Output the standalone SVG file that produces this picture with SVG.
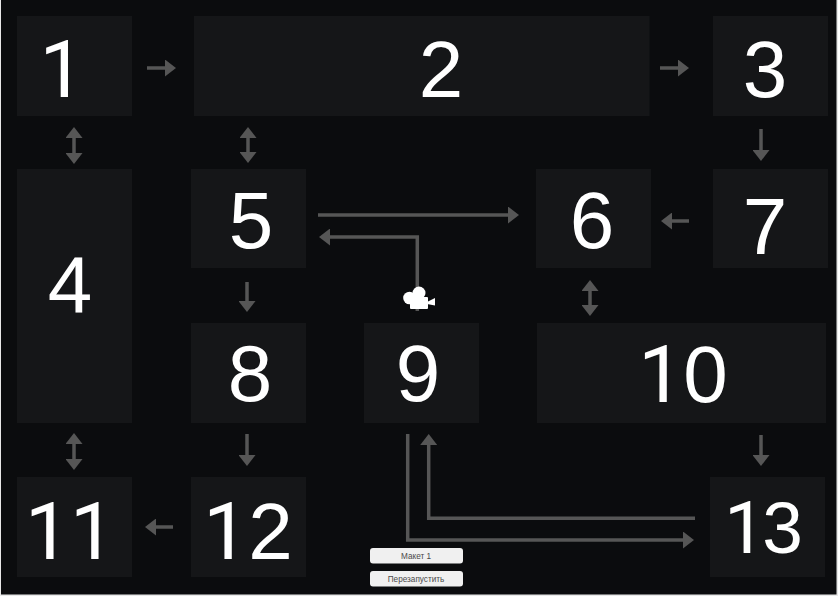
<svg xmlns="http://www.w3.org/2000/svg" width="838" height="596" viewBox="0 0 838 596">
<style>
.n{fill:#151618}
.t{font-family:"Liberation Sans",Arial,sans-serif;font-size:80px;fill:#fff;text-anchor:middle}
.o{font-family:Roboto,"Liberation Sans",sans-serif}
.c{fill:none;stroke:#565656;stroke-width:3.5}
.b{fill:#f0f0f0}
.bt{font-family:"Liberation Sans",Arial,sans-serif;font-size:8.2px;fill:#4a4a4a;text-anchor:middle}
</style>
<defs>
<marker id="a" markerUnits="userSpaceOnUse" markerWidth="12" markerHeight="17" refX="8" refY="8.5" orient="auto-start-reverse"><path d="M0 0L11 8.5L0 17Z" fill="#565656"/></marker>
</defs>
<rect width="838" height="596" fill="#e8e8e8"/>
<rect x="1" y="0" width="835.5" height="594.5" fill="#0b0c0e"/>
<g id="node1"><rect class="n" x="17" y="16" width="115" height="100"/><text class="t" x="62" y="97"><tspan class="o">1</tspan></text></g>
<g id="node2"><rect class="n" x="194" y="16" width="455.5" height="100"/><text class="t" x="441" y="97">2</text></g>
<g id="node3"><rect class="n" x="713" y="16" width="115" height="100"/><text class="t" x="765" y="97">3</text></g>
<g id="node4"><rect class="n" x="17" y="169" width="115" height="254"/><text class="t" x="70" y="312">4</text></g>
<g id="node5"><rect class="n" x="191" y="169" width="115" height="99"/><text class="t" x="251" y="248">5</text></g>
<g id="node6"><rect class="n" x="536" y="169" width="115" height="99"/><text class="t" x="592" y="248">6</text></g>
<g id="node7"><rect class="n" x="713" y="169" width="115" height="99"/><text class="t" x="765" y="254">7</text></g>
<g id="node8"><rect class="n" x="191" y="323" width="115" height="100"/><text class="t" x="250" y="401">8</text></g>
<g id="node9"><rect class="n" x="364" y="323" width="115" height="100"/><text class="t" x="418" y="401">9</text></g>
<g id="node10"><rect class="n" x="537" y="323" width="289" height="100"/><text class="t" x="683" y="402"><tspan class="o">1</tspan>0</text></g>
<g id="node11"><rect class="n" x="17" y="477" width="115" height="100"/><text class="t" x="70" y="559"><tspan class="o">11</tspan></text></g>
<g id="node12"><rect class="n" x="191" y="477" width="115" height="100"/><text class="t" x="248" y="559"><tspan class="o">1</tspan>2</text></g>
<g id="node13"><rect class="n" x="710" y="477" width="115" height="100"/><text class="t" x="762" y="553" style="font-size:73px;letter-spacing:-3px"><tspan class="o">1</tspan>3</text></g>
<g id="connectors">
<path class="c" d="M147 68H173" marker-end="url(#a)"/>
<path class="c" d="M660 68H686" marker-end="url(#a)"/>
<path class="c" d="M74 130V161" marker-start="url(#a)" marker-end="url(#a)"/>
<path class="c" d="M248 130V160" marker-start="url(#a)" marker-end="url(#a)"/>
<path class="c" d="M761 129V158" marker-end="url(#a)"/>
<path class="c" d="M318 215H516" marker-end="url(#a)"/>
<path class="c" d="M689 221H664" marker-end="url(#a)"/>
<path class="c" d="M417.3 311V237H322" marker-end="url(#a)"/>
<path class="c" d="M247 282V309" marker-end="url(#a)"/>
<path class="c" d="M590 283V313" marker-start="url(#a)" marker-end="url(#a)"/>
<path class="c" d="M74 436V467" marker-start="url(#a)" marker-end="url(#a)"/>
<path class="c" d="M247 434V463" marker-end="url(#a)"/>
<path class="c" d="M761 435V463" marker-end="url(#a)"/>
<path class="c" d="M173 527H148" marker-end="url(#a)"/>
<path class="c" d="M407.7 434V540H691" marker-end="url(#a)"/>
<path class="c" d="M695 518.3H428.7V437" marker-end="url(#a)"/>
</g>
<g id="camera" fill="#fff">
<circle cx="409.5" cy="298" r="6.3"/><circle cx="419" cy="293" r="6.5"/><rect x="410" y="297" width="18" height="12" rx="1"/><path d="M427 302L435 298V305.5L427 304Z"/>
</g>
<g id="btn1"><rect class="b" x="370" y="548" width="93" height="15.5" rx="3"/><text class="bt" x="416" y="559">Макет 1</text></g>
<g id="btn2"><rect class="b" x="370" y="571" width="93" height="15.5" rx="3"/><text class="bt" x="416" y="582">Перезапустить</text></g>
</svg>
